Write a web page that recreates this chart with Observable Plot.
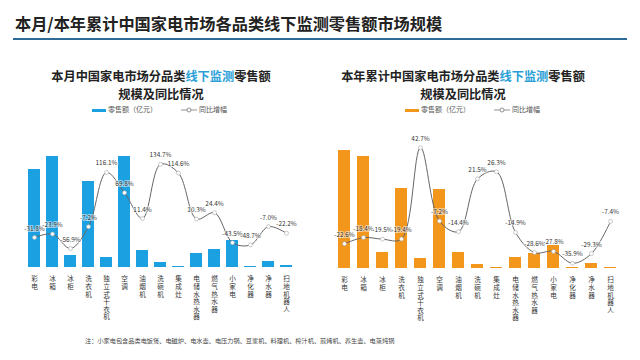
<!DOCTYPE html>
<html>
<head>
<meta charset="utf-8">
<script src="https://cdn.jsdelivr.net/npm/d3@7"></script>
<script src="https://cdn.jsdelivr.net/npm/@observablehq/plot@0.6"></script>
<style>
  html, body { margin: 0; padding: 0; background: #fff; }
  body { width: 640px; height: 360px; position: relative; overflow: hidden; font-family: "Noto Sans CJK SC", "Noto Sans", sans-serif; }
  .abs { position: absolute; }
  .title { left: 15px; top: 11px; font-size: 16.2px; font-weight: bold; color: #222; white-space: nowrap; }
  .rule { left: 13px; top: 38px; width: 614px; height: 1.5px; background: #2f6b98; }
  .sub { font-size: 12.2px; font-weight: bold; color: #222; text-align: center; line-height: 18px; white-space: nowrap; }
  .sub .hl { color: #2a9fd8; }
  .leg { font-size: 7px; color: #555; white-space: nowrap; line-height: 10px; }
  .sw { display: inline-block; width: 14px; height: 3px; vertical-align: middle; margin-right: 2px; }
  .note { left: 85px; top: 336px; font-size: 6.2px; color: #444; white-space: nowrap; }
  .xlab text { writing-mode: vertical-rl; text-orientation: upright; letter-spacing: 1px; }
</style>
</head>
<body>
<script>
const categories = ["彩电","冰箱","冰柜","洗衣机","独立式干衣机","空调","油烟机","洗碗机","集成灶","电储水热水器","燃气热水器","小家电","净化器","净水器","扫地机器人"];
// 本月零售额（亿元）
const monthSales = [49, 55.5, 6, 43, 5, 55.5, 8.5, 2.5, 0.5, 7, 9, 13.5, 0.5, 3, 1];
// 本月同比增幅（%）
const monthYoY = [-31.8, -23.9, -56.9, -7.2, 116.1, 69.8, 11.4, 134.7, 114.6, 10.3, 24.4, -43.5, -48.7, -7.0, -22.2];
// 本年累计零售额（亿元）
const ytdSales = [354, 336, 48, 240, 30, 237, 48, 12, 3, 33, 45, 69, 3, 15, 3];
// 本年累计同比增幅（%）
const ytdYoY = [-22.6, -18.4, -19.5, -19.4, 42.7, -7.2, -14.4, 21.5, 26.3, -14.9, -28.6, -27.8, -35.9, -29.3, -7.4];

const mainTitle = "本月/本年累计中国家电市场各品类线下监测零售额市场规模";
const note = "注：小家电包含品类电饭煲、电磁炉、电水壶、电压力锅、豆浆机、料理机、榨汁机、煎烤机、养生壶、电蒸炖锅";

const FONT = "Noto Sans CJK SC, Noto Sans, sans-serif";

function el(cls, html, style) {
  const d = document.createElement("div");
  d.className = "abs " + cls;
  d.innerHTML = html;
  Object.assign(d.style, style || {});
  document.body.appendChild(d);
  return d;
}

el("title", mainTitle);
el("rule", "");

function lineSwatch() {
  return `<svg width="16" height="6" style="vertical-align:middle;margin-right:2px"><line x1="0" y1="3" x2="16" y2="3" stroke="#777" stroke-width="0.8"/><circle cx="8" cy="3" r="2" fill="#fff" stroke="#777" stroke-width="0.8"/></svg>`;
}

function panel(opts) {
  const {left, width, baseline, barMax, sales, yoy, color, yoyDomain, titlePre, titlePost, titleCenter, legLeft, legLineLeft} = opts;

  el("sub", `<span>${titlePre}</span><span class="hl">线下监测</span><span>${titlePost}</span>`,
     {left: (titleCenter - 150) + "px", width: "300px", top: "67px"});
  el("sub", `<span>规模及同比情况</span>`, {left: (titleCenter - 150) + "px", width: "300px", top: "85px"});
  el("leg", `<span class="sw" style="background:${color}"></span>零售额（亿元）`, {left: legLeft + "px", top: "104px"});
  el("leg", `${lineSwatch()}同比增幅`, {left: legLineLeft + "px", top: "104px"});

  const data = categories.map((c, i) => ({cat: c, sales: sales[i], yoy: yoy[i]}));
  const top = 140;
  const plotH = baseline - top;

  const bars = Plot.plot({
    width, height: plotH + 60,
    marginTop: 0, marginBottom: 60, marginLeft: 0, marginRight: 0,
    style: {fontFamily: FONT, background: "transparent", overflow: "visible"},
    x: {domain: categories, paddingInner: 0.35, paddingOuter: 0.175, axis: null, label: null},
    y: {domain: [0, barMax], axis: null, label: null},
    marks: [
      Plot.barY(data, {x: "cat", y: "sales", fill: color}),
      Plot.text(data, {
        x: "cat", text: "cat", className: "xlab",
        frameAnchor: "bottom", lineAnchor: "middle", textAnchor: "start", dy: 6,
        fontSize: 6.6, fill: "#333"
      })
    ]
  });
  const b = document.createElement("div");
  b.className = "abs";
  b.style.left = left + "px"; b.style.top = top + "px";
  b.appendChild(bars);
  document.body.appendChild(b);

  const lineChart = Plot.plot({
    width, height: 130,
    marginTop: 0, marginBottom: 0, marginLeft: 0, marginRight: 0,
    style: {fontFamily: FONT, background: "transparent", overflow: "visible"},
    x: {type: "point", domain: categories, padding: 0.5, axis: null, label: null},
    y: {domain: yoyDomain, axis: null, label: null},
    marks: [
      Plot.line(data, {x: "cat", y: "yoy", curve: "catmull-rom", stroke: "#666", strokeWidth: 1}),
      Plot.dot(data, {x: "cat", y: "yoy", r: 2, fill: "#fff", stroke: "#aaa", strokeWidth: 0.6}),
      Plot.text(data, {x: "cat", y: "yoy", text: d => d.yoy.toFixed(1) + "%", dy: -9, fontSize: 6.4,
        fill: "#333", stroke: "#fff", strokeWidth: 2, strokeOpacity: 0.55})
    ]
  });
  const l = document.createElement("div");
  l.className = "abs";
  l.style.left = left + "px"; l.style.top = top + "px";
  l.appendChild(lineChart);
  document.body.appendChild(l);
}

panel({
  left: 19, width: 282, baseline: 267, barMax: 63.5,
  sales: monthSales, yoy: monthYoY, color: "#1ba1e2",
  yoyDomain: [-106.8, 188.6],
  titlePre: "本月中国家电市场分品类", titlePost: "零售额",
  titleCenter: 161, legLeft: 92, legLineLeft: 181
});

panel({
  left: 334, width: 286, baseline: 268, barMax: 384,
  sales: ytdSales, yoy: ytdYoY, color: "#f2961c",
  yoyDomain: [-40.8, 47.6],
  titlePre: "本年累计中国家电市场分品类", titlePost: "零售额",
  titleCenter: 463, legLeft: 405, legLineLeft: 494
});

el("note", note);
</script>
</body>
</html>
